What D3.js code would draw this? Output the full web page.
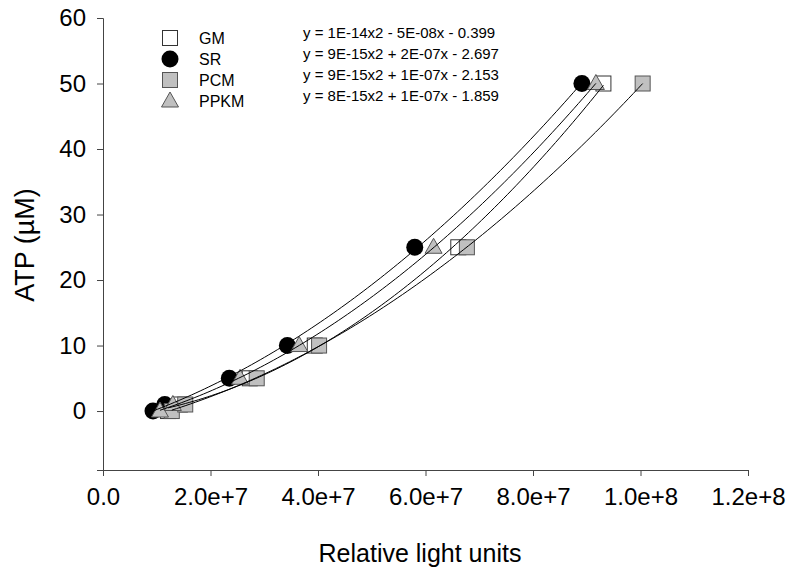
<!DOCTYPE html>
<html lang="en">
<head>
<meta charset="utf-8">
<title>ATP standard curves</title>
<script src="https://d3js.org/d3.v7.min.js"></script>
<style>
  body { margin: 0; background: #fff; }
  text { font-family: "Liberation Sans", Arial, sans-serif; fill: #000; }
</style>
</head>
<body>
<script>
// ATP standards (uM) and relative light units read for each medium
var atpLevels = [0, 1, 5, 10, 25, 50];
var gmRlu   = [1.21e7, 1.43e7, 2.73e7, 3.94e7, 6.61e7, 9.31e7];
var srRlu   = [0.93e7, 1.15e7, 2.35e7, 3.43e7, 5.80e7, 8.91e7];
var pcmRlu  = [1.28e7, 1.53e7, 2.86e7, 4.02e7, 6.77e7, 10.04e7];
var ppkmRlu = [1.06e7, 1.30e7, 2.55e7, 3.65e7, 6.15e7, 9.17e7];

var seriesNames = ["GM", "SR", "PCM", "PPKM"];
var equations = [
  "y = 1E-14x2 - 5E-08x - 0.399",
  "y = 9E-15x2 + 2E-07x - 2.697",
  "y = 9E-15x2 + 1E-07x - 2.153",
  "y = 8E-15x2 + 1E-07x - 1.859"
];
var xTicks = [0, 2e7, 4e7, 6e7, 8e7, 1e8, 1.2e8];
var yTicks = [0, 10, 20, 30, 40, 50, 60];

var width = 800, height = 576;
var svg = d3.select("body").append("svg")
    .attr("width", width)
    .attr("height", height);

var x = d3.scaleLinear().domain([0, 1.2e8]).range([103, 748]);
var y = d3.scaleLinear().domain([-9, 60]).range([470, 18]);

// axes
var xAxis = svg.append("g")
    .attr("transform", "translate(0," + y(-9) + ")")
    .call(d3.axisBottom(x).tickValues(xTicks).tickSize(6).tickPadding(9)
      .tickFormat(function(d) { return d === 0 ? "0.0" : d3.format(".1e")(d); }));
var yAxis = svg.append("g")
    .attr("transform", "translate(" + x(0) + ",0)")
    .call(d3.axisLeft(y).tickValues(yTicks).tickSize(6).tickPadding(10));

[xAxis, yAxis].forEach(function(a) {
  a.select(".domain").attr("stroke", "#444");
  a.selectAll(".tick line").attr("stroke", "#444");
  a.selectAll(".tick text").attr("font-size", 24)
    .attr("font-family", "Liberation Sans, Arial, sans-serif").attr("fill", "#000");
});
xAxis.selectAll(".tick text").attr("dy", "0.85em");
yAxis.selectAll(".tick text").attr("dx", "-1px");

svg.append("text")
    .attr("x", 420).attr("y", 562)
    .attr("text-anchor", "middle")
    .attr("font-size", 25)
    .text("Relative light units");
svg.append("text")
    .attr("transform", "translate(34,245) rotate(-90)")
    .attr("text-anchor", "middle")
    .attr("font-size", 27)
    .text("ATP (\u00b5M)");

// marker drawing
function drawMarker(g, kind) {
  if (kind === "GM") {
    g.append("rect").attr("x", -7.5).attr("y", -7.5).attr("width", 15).attr("height", 15)
      .attr("fill", "#fff").attr("stroke", "#333").attr("stroke-width", 1);
  } else if (kind === "SR") {
    g.append("circle").attr("r", 8.5).attr("fill", "#000");
  } else if (kind === "PCM") {
    g.append("rect").attr("x", -7.5).attr("y", -7.5).attr("width", 15).attr("height", 15)
      .attr("fill", "#c0c0c0").attr("stroke", "#555").attr("stroke-width", 1);
  } else {
    g.append("path").attr("d", "M0,-9L8.5,6L-8.5,6Z")
      .attr("fill", "#c0c0c0").attr("stroke", "#555").attr("stroke-width", 1);
  }
}

var allRlu = [gmRlu, srRlu, pcmRlu, ppkmRlu];

// least-squares quadratic fit of ATP against RLU
function quadFit(xs, ys) {
  var s = [0, 0, 0, 0, 0], t = [0, 0, 0];
  xs.forEach(function(xv, i) {
    var u = xv / 1e7;
    for (var k = 0; k < 5; k++) s[k] += Math.pow(u, k);
    for (var k2 = 0; k2 < 3; k2++) t[k2] += ys[i] * Math.pow(u, k2);
  });
  var M = [[s[0], s[1], s[2], t[0]], [s[1], s[2], s[3], t[1]], [s[2], s[3], s[4], t[2]]];
  for (var c = 0; c < 3; c++) {
    for (var r = c + 1; r < 3; r++) {
      var f = M[r][c] / M[c][c];
      for (var j = c; j < 4; j++) M[r][j] -= f * M[c][j];
    }
  }
  var b = [0, 0, 0];
  for (var r2 = 2; r2 >= 0; r2--) {
    var v = M[r2][3];
    for (var j2 = r2 + 1; j2 < 3; j2++) v -= M[r2][j2] * b[j2];
    b[r2] = v / M[r2][r2];
  }
  return function(xv) { var u = xv / 1e7; return b[0] + b[1] * u + b[2] * u * u; };
}

var plot = svg.append("g");
allRlu.forEach(function(rlu, si) {
  rlu.forEach(function(xv, i) {
    var g = plot.append("g").attr("transform", "translate(" + x(xv) + "," + y(atpLevels[i]) + ")");
    drawMarker(g, seriesNames[si]);
  });
});

var line = d3.line().x(function(d) { return x(d[0]); }).y(function(d) { return y(d[1]); });
allRlu.forEach(function(rlu) {
  var fit = quadFit(rlu, atpLevels);
  var lo = d3.min(rlu), hi = d3.max(rlu);
  var pts = d3.range(0, 101).map(function(k) {
    var xv = lo + (hi - lo) * k / 100;
    return [xv, fit(xv)];
  });
  svg.append("path").attr("d", line(pts))
    .attr("fill", "none").attr("stroke", "#000").attr("stroke-width", 1);
});

// legend
var legend = svg.append("g");
seriesNames.forEach(function(name, i) {
  var cy = 38 + i * 21;
  var g = legend.append("g").attr("transform", "translate(170," + cy + ")");
  drawMarker(g, name);
  legend.append("text").attr("x", 199).attr("y", cy + 6)
    .attr("font-size", 16).text(name);
  legend.append("text").attr("x", 303).attr("y", cy)
    .attr("font-size", 15).text(equations[i]);
});
</script>
</body>
</html>
